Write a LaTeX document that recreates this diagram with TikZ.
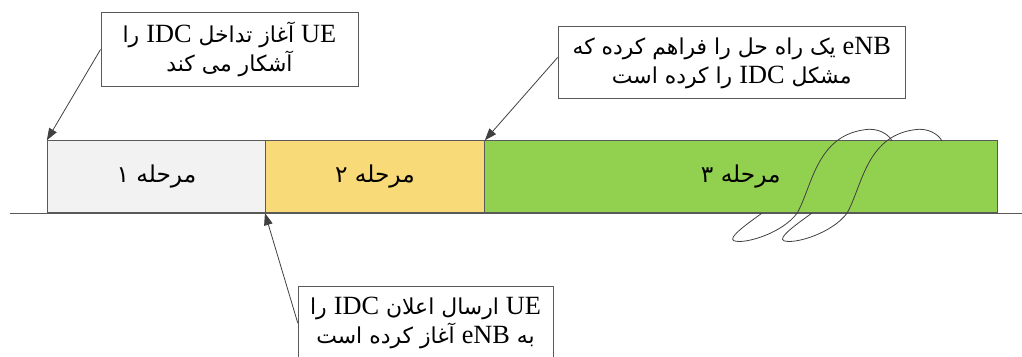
\documentclass[tikz,border=0pt]{standalone}
\usepackage{fontspec}
\usetikzlibrary{arrows.meta}
\TeXXeTstate=1
\newfontfamily\arabicfont[Script=Arabic]{DejaVu Sans}
\newfontfamily\latinfont[Scale=1.2]{Liberation Serif}
\newcommand{\lword}[1]{\beginL{\latinfont #1}\endL{}}
\definecolor{stageone}{HTML}{F2F2F2}
\definecolor{stagetwo}{HTML}{F9DA78}
\definecolor{stagethree}{HTML}{92D050}
\definecolor{edgegray}{HTML}{595959}
\definecolor{pengray}{HTML}{404040}

\begin{document}
\begin{tikzpicture}[stage/.style={draw=edgegray,line width=0.8pt,minimum height=1.9cm,inner sep=0pt,anchor=south west,font=\arabicfont\fontsize{17.5}{20}\selectfont},
    note/.style={draw=edgegray,line width=0.6pt,align=center,inner sep=0pt,font=\arabicfont\fontsize{16.5}{22}\selectfont},
    pointer/.style={draw=pengray,line width=0.6pt,-{Triangle[length=9pt,width=6.5pt]}},
    squiggle/.style={draw=pengray,line width=0.6pt}]
        \useasboundingbox (0,0) rectangle (27.04,9.42);
        % time line and the three stages
        \draw[edgegray,line width=0.6pt] (0.26,3.78) -- (27.04,3.78);
        \node[stage,fill=stageone,minimum width=5.77cm] (s1) at (1.24,3.78) {\beginR مرحله ۱\endR};
        \node[stage,fill=stagetwo,minimum width=5.79cm] (s2) at (7.01,3.78) {\beginR مرحله ۲\endR};
        \node[stage,fill=stagethree,minimum width=13.57cm] (s3) at (12.80,3.78) {\beginR مرحله ۳\endR};
        % break marks
        \foreach \dx in {0,1.32} {
            \draw[squiggle,xshift=\dx cm] (20.16,3.78) .. controls (19.7,3.45) and (19.25,3.12) .. (19.42,3.05)
                .. controls (19.7,2.95) and (20.7,3.25) .. (21.09,3.78)
                .. controls (21.5,4.5) and (21.6,5.9) .. (23.0,6.0)
                .. controls (23.35,6.0) and (23.55,5.8) .. (23.6,5.69);
        }
        % notes
        \node[note,minimum width=6.8cm,minimum height=1.94cm] (b1) at (6.07,8.11)
            {\beginR\lword{UE} آغاز تداخل \lword{IDC} را\endR\\ \beginR آشکار می کند\endR};
        \node[note,minimum width=9.19cm,minimum height=1.91cm] (b2) at (19.36,7.76)
            {\beginR\lword{eNB} یک راه حل را فراهم کرده که\endR\\ \beginR مشکل \lword{IDC} را کرده است\endR};
        \node[note,minimum width=6.74cm,minimum height=1.93cm] (b3) at (11.26,0.87)
            {\beginR\lword{UE} ارسال اعلان \lword{IDC} را\endR\\ \beginR به \lword{eNB} آغاز کرده است\endR};
        \draw[pointer] (b1.west) -- (s1.north west);
        \draw[pointer] ([yshift=4pt]b2.west) -- (s2.north east);
        \draw[pointer] (b3.west) -- (s2.south west);
\end{tikzpicture}
\end{document}
